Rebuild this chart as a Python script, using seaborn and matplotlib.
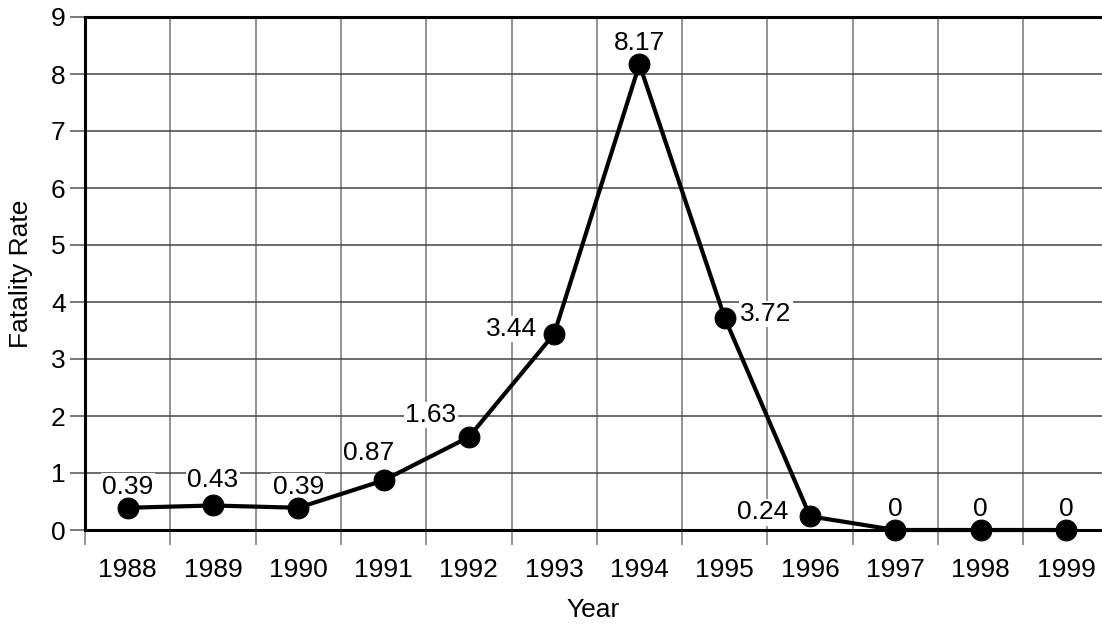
import numpy as np
import pandas as pd
import seaborn as sns
import matplotlib.pyplot as plt
from matplotlib.ticker import FixedLocator

# --- dados ---
anos = ['1988', '1989', '1990', '1991', '1992', '1993',
        '1994', '1995', '1996', '1997', '1998', '1999']
taxa = [0.39, 0.43, 0.39, 0.87, 1.63, 3.44, 8.17, 3.72, 0.24, 0, 0, 0]
rotulos = ['0.39', '0.43', '0.39', '0.87', '1.63', '3.44',
           '8.17', '3.72', '0.24', '0', '0', '0']

# deslocamento dos rótulos (pixels)
desloc = [(0, 21), (0, 25), (0, 21), (-15, 27), (-38, 22), (-43, 5),
          (0, 21), (41, 4), (-47, 4), (0, 21), (0, 21), (0, 21)]

df = pd.DataFrame({'Year': np.arange(len(anos)), 'Fatality Rate': taxa})

sns.set_style("white")
plt.rcParams['font.family'] = ['Liberation Sans', 'DejaVu Sans']
plt.rcParams['text.color'] = 'black'
plt.rcParams['axes.labelcolor'] = 'black'
plt.rcParams['xtick.color'] = 'black'
plt.rcParams['ytick.color'] = 'black'

fig = plt.figure(figsize=(11.02, 6.26), dpi=100)
ax = fig.add_axes([85 / 1102, 96 / 626, 1 - 85 / 1102, 513 / 626])

sns.lineplot(data=df, x='Year', y='Fatality Rate', ax=ax, color='black',
             linewidth=3, marker='o', markersize=15, markeredgecolor='black',
             zorder=5, clip_on=False)

for i, (v, txt) in enumerate(zip(taxa, rotulos)):
    ax.annotate(txt, (i, v), xytext=desloc[i], textcoords='offset pixels',
                ha='center', va='center', fontsize=19, zorder=4,
                bbox=dict(facecolor='white', edgecolor='none', pad=1))

ax.set_xlim(-0.5, (1102 - 85) / 85.3 - 0.5)
ax.set_ylim(0, 9)
ax.set_xticks(range(len(anos)))
ax.set_xticklabels(anos)
ax.xaxis.set_minor_locator(FixedLocator(np.arange(-0.5, 12, 1)))
ax.set_yticks(range(10))

ax.tick_params(axis='x', which='major', length=0, labelsize=19, pad=20)
ax.tick_params(axis='x', which='minor', length=11, width=1.1, color='#777777',
               direction='out', bottom=True)
ax.tick_params(axis='y', length=11, width=1.1, color='#555555', labelsize=19,
               labelcolor='black', pad=3, left=True)
ax.tick_params(axis='x', labelcolor='black')

ax.grid(False)
ax.xaxis.grid(True, which='minor', color='#777777', linewidth=1.1)
ax.yaxis.grid(True, which='major', color='#444444', linewidth=1.1)
ax.set_axisbelow(True)

for s in ['left', 'top', 'bottom']:
    ax.spines[s].set_color('black')
    ax.spines[s].set_linewidth(2.2)
ax.spines['right'].set_visible(False)

ax.set_xlabel('Year', fontsize=19, labelpad=12)
ax.set_ylabel('Fatality Rate', fontsize=19, labelpad=13)

fig.savefig('out.png', dpi=100)
